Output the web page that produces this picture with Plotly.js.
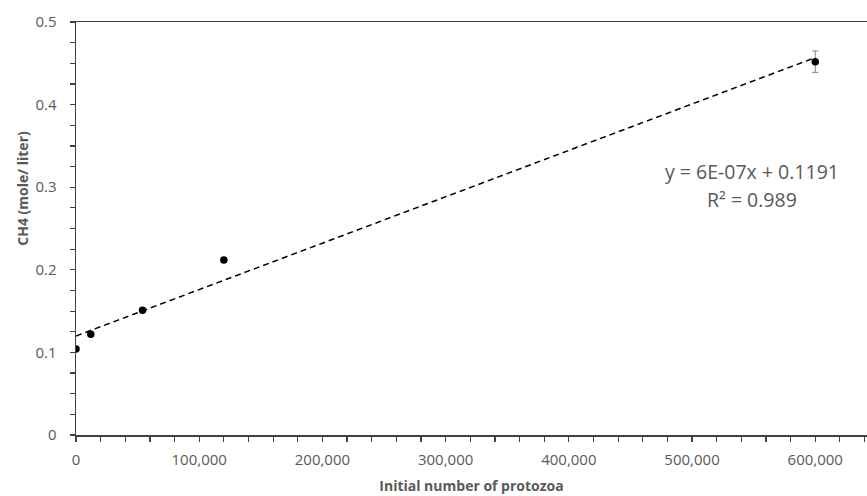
<!DOCTYPE html>
<html><head><meta charset="utf-8">
<script src="https://cdn.plot.ly/plotly-3.0.1.min.js"></script>
<style>html,body{margin:0;padding:0;background:#fff}#c{width:867px;height:496px}</style>
</head><body><div id="c"></div>
<script>
const protozoa = [0, 12000, 54000, 120000, 600000];
const ch4 = [0.104, 0.122, 0.151, 0.212, 0.452];
const ch4Err = [0, 0, 0, 0, 0.013];
const xTicks = [0, 100000, 200000, 300000, 400000, 500000, 600000];
const equationText = "y = 6E-07x + 0.1191";
const r2Text = "R² = 0.989";

// least-squares trendline from data
const n = protozoa.length;
const mx = protozoa.reduce((a,b)=>a+b,0)/n;
const my = ch4.reduce((a,b)=>a+b,0)/n;
let sxy=0, sxx=0;
for (let i=0;i<n;i++){ sxy += (protozoa[i]-mx)*(ch4[i]-my); sxx += (protozoa[i]-mx)**2; }
const slope = sxy/sxx, icpt = my - slope*mx;
const tx = [Math.min(...protozoa), Math.max(...protozoa)];
const ty = tx.map(x => icpt + slope*x);

const gray = '#595959';
const axc = '#404040';
const font = 'Open Sans, Liberation Sans, sans-serif';
const data = [
  {x: tx, y: ty, mode: 'lines', line: {color: '#000', width: 1.5, dash: '6px,4px'}, hoverinfo: 'skip'},
  {x: protozoa, y: ch4, mode: 'markers', marker: {color: '#000', size: 7.5},
   error_y: {type: 'data', array: ch4Err, visible: true, color: '#808080', thickness: 1, width: 3}}
];
const layout = {
  width: 867, height: 496, showlegend: false,
  margin: {l: 76, r: 0, t: 22, b: 61},
  paper_bgcolor: '#fff', plot_bgcolor: '#fff',
  font: {family: font, color: gray, size: 15},
  xaxis: {range: [0, 642000], tickvals: xTicks,
    tickformat: ',d', showgrid: false, zeroline: false, showline: true, linecolor: axc, linewidth: 1.5,
    mirror: true, ticks: 'outside', ticklen: 5, tickcolor: axc, tickwidth: 1.2, ticklabelstandoff: 5,
    minor: {tick0: 0, dtick: 20000, ticks: 'outside', ticklen: 5, tickcolor: axc, tickwidth: 1.2, showgrid: false},
    tickfont: {size: 15, color: gray},
    title: {text: '<b>Initial number of protozoa</b>', font: {size: 14, color: gray}, standoff: 13}},
  yaxis: {range: [0, 0.5], dtick: 0.1, showgrid: false, zeroline: false, showline: true,
    linecolor: axc, linewidth: 1.5, ticks: 'outside', ticklen: 5, tickcolor: axc, tickwidth: 1.2, ticklabelstandoff: 10,
    minor: {dtick: 0.025, ticks: 'outside', ticklen: 5, tickcolor: axc, tickwidth: 1.2, showgrid: false},
    tickfont: {size: 15, color: gray}},
  annotations: [
    {x: -0.068, y: 0.597, xref: 'paper', yref: 'paper', text: '<b>CH4 (mole/ liter)</b>', textangle: -90,
     showarrow: false, font: {size: 14, color: gray}, xanchor: 'center', yanchor: 'middle'},
    {x: 0.854, y: 0.637, xref: 'paper', yref: 'paper', text: equationText, showarrow: false,
     font: {size: 19.5, color: gray}, xanchor: 'center', yanchor: 'middle'},
    {x: 0.854, y: 0.571, xref: 'paper', yref: 'paper', text: r2Text, showarrow: false,
     font: {size: 19.5, color: gray}, xanchor: 'center', yanchor: 'middle'}
  ]
};
Plotly.newPlot('c', data, layout, {displayModeBar: false, staticPlot: true});
</script></body></html>
